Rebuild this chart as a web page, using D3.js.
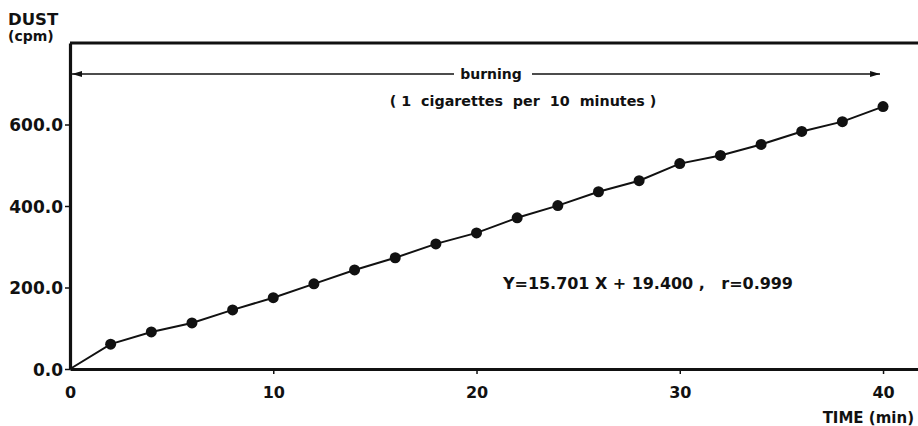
<!DOCTYPE html>
<html>
<head>
<meta charset="utf-8">
<script src="https://cdn.jsdelivr.net/npm/d3@7"></script>
<style>
  html, body { margin: 0; padding: 0; background: #fff; }
  svg { display: block; }
  text { font-family: "DejaVu Sans", "Liberation Sans", sans-serif; font-weight: bold; fill: #111; white-space: pre; }
</style>
</head>
<body>
<svg id="chart" width="918" height="426"></svg>
<script>
// Dust concentration while cigarettes are burning
const times = [2, 4, 6, 8, 10, 12, 14, 16, 18, 20, 22, 24, 26, 28, 30, 32, 34, 36, 38, 40];
const dust  = [61, 91, 113, 145, 175, 209, 243, 273, 307, 334, 371, 401, 435, 462, 504, 524, 551, 583, 607, 644];
const xTicks = [0, 10, 20, 30, 40];
const yTicks = [0, 200, 400, 600];

const svg = d3.select("#chart");
const ink = "#111";

const x = d3.scaleLinear().domain([0, 41.72]).range([70, 918]);
const y = d3.scaleLinear().domain([0, 800]).range([369, 43]);

// frame: top border
svg.append("line")
  .attr("x1", x(0)).attr("x2", x(41.72))
  .attr("y1", y(800)).attr("y2", y(800))
  .attr("stroke", ink).attr("stroke-width", 3);

// axes
const yAxis = svg.append("g")
  .attr("transform", `translate(${x(0)},0)`)
  .call(d3.axisLeft(y).tickValues(yTicks).tickFormat(d3.format(".1f")).tickSize(5).tickSizeOuter(0));
const xAxis = svg.append("g")
  .attr("transform", `translate(0,${y(0)})`)
  .call(d3.axisBottom(x).tickValues(xTicks).tickFormat(d3.format("d")).tickSize(5).tickSizeOuter(0));

[yAxis, xAxis].forEach(g => {
  g.select(".domain").attr("stroke", ink).attr("stroke-width", 3.2);
  g.selectAll(".tick line").attr("stroke", ink).attr("stroke-width", 1.5);
  g.selectAll(".tick text").attr("fill", ink)
    .style("font-family", "DejaVu Sans").style("font-weight", "bold");
});
yAxis.selectAll(".tick text").style("font-size", "17px").attr("x", -7).attr("dy", "0.36em");
xAxis.selectAll(".tick text").style("font-size", "16px").attr("y", 18);
xAxis.selectAll(".tick line").filter(d => d === 0).remove();

// data line starting from the origin
const pts = [[0, 0]].concat(times.map((t, i) => [t, dust[i]]));
svg.append("path")
  .datum(pts)
  .attr("fill", "none")
  .attr("stroke", ink)
  .attr("stroke-width", 2)
  .attr("d", d3.line().x(d => x(d[0])).y(d => y(d[1])));

svg.append("g").selectAll("circle")
  .data(times.map((t, i) => [t, dust[i]]))
  .join("circle")
  .attr("cx", d => x(d[0]))
  .attr("cy", d => y(d[1]))
  .attr("r", 5.5)
  .attr("fill", ink);

// burning period arrow
const defs = svg.append("defs");
["arrowL", "arrowR"].forEach((id, k) => {
  defs.append("marker")
    .attr("id", id)
    .attr("viewBox", "0 0 10 6")
    .attr("refX", k === 0 ? 0 : 10).attr("refY", 3)
    .attr("markerWidth", 11).attr("markerHeight", 6)
    .attr("markerUnits", "userSpaceOnUse")
    .attr("orient", "auto")
    .append("path")
    .attr("d", k === 0 ? "M10,0 L0,3 L10,6 Z" : "M0,0 L10,3 L0,6 Z")
    .attr("fill", ink);
});
const arrowY = 74;
svg.append("line")
  .attr("x1", x(0) + 2).attr("x2", 454)
  .attr("y1", arrowY).attr("y2", arrowY)
  .attr("stroke", ink).attr("stroke-width", 1.6)
  .attr("marker-start", "url(#arrowL)");
svg.append("line")
  .attr("x1", 532).attr("x2", x(40) - 3)
  .attr("y1", arrowY).attr("y2", arrowY)
  .attr("stroke", ink).attr("stroke-width", 1.6)
  .attr("marker-end", "url(#arrowR)");
svg.append("text")
  .attr("x", 491).attr("y", arrowY + 5)
  .attr("text-anchor", "middle")
  .style("font-size", "14px")
  .text("burning");
svg.append("text")
  .attr("x", 523).attr("y", 106)
  .attr("text-anchor", "middle")
  .style("font-size", "14.3px")
  .text("( 1  cigarettes  per  10  minutes )");

// regression equation
svg.append("text")
  .attr("x", 503).attr("y", 289)
  .attr("textLength", 290)
  .attr("lengthAdjust", "spacing")
  .style("font-size", "16px")
  .text("Y=15.701 X + 19.400 ,   r=0.999");

// axis titles
svg.append("text").attr("x", 8).attr("y", 24.5).style("font-size", "16.5px").text("DUST");
svg.append("text").attr("x", 8).attr("y", 41).style("font-size", "14px").text("(cpm)");
svg.append("text").attr("x", 914).attr("y", 423).attr("text-anchor", "end")
  .style("font-size", "15px").text("TIME (min)");
</script>
</body>
</html>
